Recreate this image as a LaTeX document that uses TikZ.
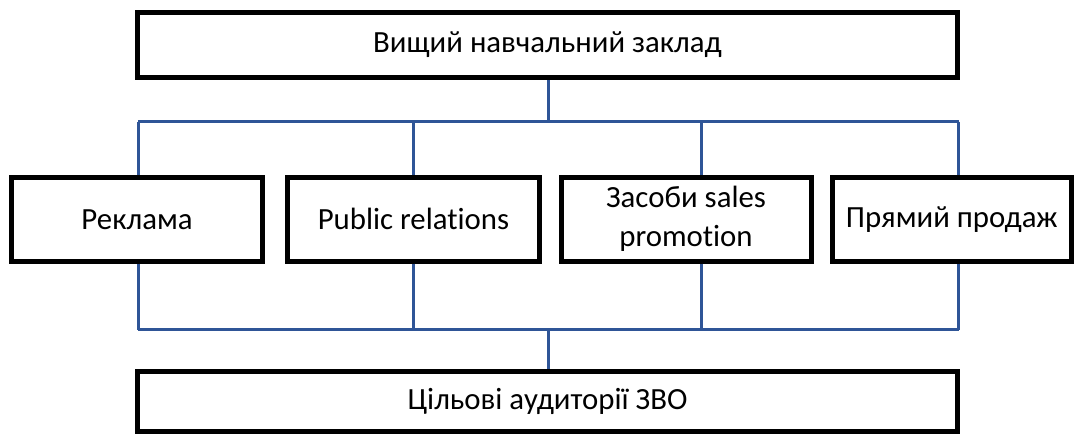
\documentclass[tikz,border=0pt]{standalone}
\usepackage{fontspec}
\setmainfont{Carlito}[Ligatures={NoCommon}]
\begin{document}
\begin{tikzpicture}[x=1pt,y=-1pt,
  box/.style={draw=black,line width=5pt,inner sep=0pt,align=center,
    font=\fontsize{30.8}{39}\selectfont},
  conn/.style={draw={rgb,255:red,47;green,85;blue,151},line width=3pt}]
\useasboundingbox (0,0) rectangle (1074,434);
% boxes
\node[box,minimum width=820pt,minimum height=65pt] (top) at (547.5,45) {Вищий навчальний заклад};
\node[box,minimum width=251pt,minimum height=83.5pt] (r1) at (137,219.25) {Реклама};
\node[box,minimum width=252pt,minimum height=83.5pt] (r2) at (413.5,219.25) {Public relations};
\node[box,minimum width=250pt,minimum height=83.5pt] (r3) at (686,219.25) {Засоби sales\\promotion};
\node[box,minimum width=238.5pt,minimum height=83.5pt] (r4) at (951.75,219.25) {Прямий продаж};
\node[box,minimum width=820pt,minimum height=60pt] (bot) at (547.5,401.5) {Цільові аудиторії ЗВО};
% bus coordinates
\coordinate (tc) at (548,121.5);
\coordinate (t1) at (138,121.5);
\coordinate (t2) at (413.7,121.5);
\coordinate (t3) at (701.7,121.5);
\coordinate (t4) at (958.5,121.5);
\coordinate (bc) at (548,329.5);
\coordinate (b1) at (138,329.5);
\coordinate (b2) at (413.7,329.5);
\coordinate (b3) at (701.7,329.5);
\coordinate (b4) at (958.5,329.5);
% upper connectors
\draw[conn] (top.south -| tc) -- (tc);
\draw[conn] (t1) -- (t4);
\foreach \i in {1,2,3,4}{\draw[conn] (t\i) -- (t\i |- r\i.north);}
% lower connectors
\foreach \i in {1,2,3,4}{\draw[conn] (b\i |- r\i.south) -- (b\i);}
\draw[conn] (b1) -- (b4);
\draw[conn] (bc) -- (bot.north -| bc);
\end{tikzpicture}
\end{document}
